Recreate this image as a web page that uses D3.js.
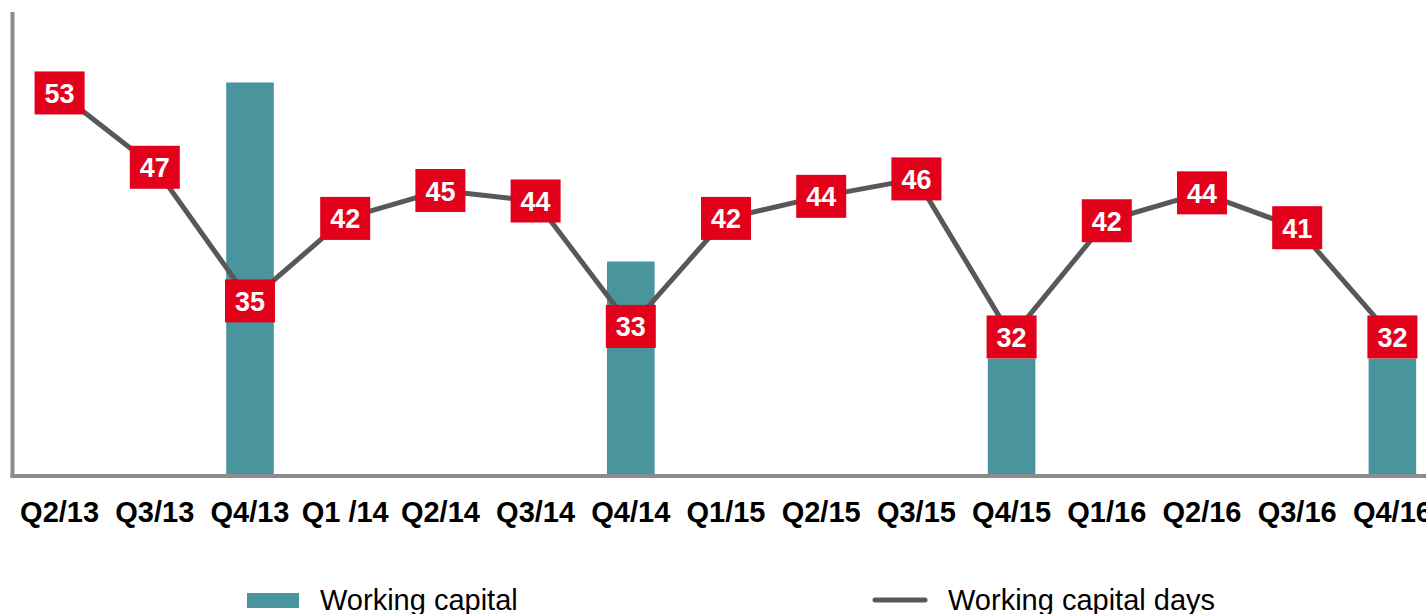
<!DOCTYPE html>
<html>
<head>
<meta charset="utf-8">
<script src="https://cdn.jsdelivr.net/npm/d3@7"></script>
<style>
  body { margin: 0; background: #fff; }
  svg { display: block; font-family: Arial, "Liberation Sans", sans-serif; }
  .tick-label { font-size: 29px; font-weight: bold; fill: #000; }
  .value-label { font-size: 27px; font-weight: bold; fill: #fff; }
  .legend-text { font-size: 29px; fill: #000; }
</style>
</head>
<body>
<div id="wrapper"></div>
<script>
const quarters = [
  'Q2/13', 'Q3/13', 'Q4/13', 'Q1 /14', 'Q2/14', 'Q3/14', 'Q4/14',
  'Q1/15', 'Q2/15', 'Q3/15', 'Q4/15', 'Q1/16', 'Q2/16', 'Q3/16', 'Q4/16'
]
// working capital only reported for Q4 quarters
const workingCapital = [null, null, 339, null, null, null, 184, null, null, null, 100, null, null, null, 100]
const workingCapitalDays = [53, 46.6, 35.1, 42.2, 44.6, 43.7, 32.9, 42.2, 44.1, 45.6, 32, 42.0, 44.4, 41.4, 32]
const seriesNames = ['Working capital', 'Working capital days']

function drawChart() {

  // 1. Access data

  const dataset = quarters.map((q, i) => ({
    quarter: q,
    capital: workingCapital[i],
    days: workingCapitalDays[i]
  }))
  const quarterAccessor = d => d.quarter
  const capitalAccessor = d => d.capital
  const daysAccessor = d => d.days

  // 2. Create chart dimensions

  let dimensions = {
    width: 1426,
    height: 614,
    plotLeft: 12,
    plotRight: 1440,
    plotTop: 12,
    plotBottom: 474,
    boxWidth: 50,
    boxHeight: 43,
  }

  // 3. Draw canvas

  const wrapper = d3.select("#wrapper")
    .append("svg")
      .attr("width", dimensions.width)
      .attr("height", dimensions.height)

  const bounds = wrapper.append("g")

  // 4. Create scales

  const xScale = d3.scaleBand()
    .domain(quarters)
    .range([dimensions.plotLeft, dimensions.plotRight])
    .paddingInner(0.5)
    .paddingOuter(0.25)

  const xCenter = d => xScale(quarterAccessor(d)) + xScale.bandwidth() / 2

  const capitalScale = d3.scaleLinear()
    .domain([0, 400])
    .range([dimensions.plotBottom, dimensions.plotTop])

  const daysScale = d3.scaleLinear()
    .domain([20.2, 61])
    .range([dimensions.plotBottom, 0])

  // 5. Draw data

  bounds.append("g")
    .selectAll("rect")
    .data(dataset.filter(d => capitalAccessor(d) != null))
    .join("rect")
      .attr("x", d => xScale(quarterAccessor(d)))
      .attr("width", xScale.bandwidth())
      .attr("y", d => capitalScale(capitalAccessor(d)))
      .attr("height", d => dimensions.plotBottom - capitalScale(capitalAccessor(d)))
      .attr("fill", "#4a959d")

  // axis frame
  bounds.append("line")
    .attr("x1", 12.5).attr("x2", 12.5)
    .attr("y1", dimensions.plotTop).attr("y2", 478)
    .attr("stroke", "#8c8c8c")
    .attr("stroke-width", 4)
  bounds.append("line")
    .attr("x1", 10.5).attr("x2", dimensions.width)
    .attr("y1", 476).attr("y2", 476)
    .attr("stroke", "#8c8c8c")
    .attr("stroke-width", 4)

  const lineGenerator = d3.line()
    .x(xCenter)
    .y(d => daysScale(daysAccessor(d)))

  bounds.append("path")
    .datum(dataset)
    .attr("d", lineGenerator)
    .attr("fill", "none")
    .attr("stroke", "#58585a")
    .attr("stroke-width", 5)
    .attr("stroke-linejoin", "round")

  const boxes = bounds.append("g")
    .selectAll("g")
    .data(dataset)
    .join("g")
      .attr("transform", d => `translate(${xCenter(d)}, ${daysScale(daysAccessor(d))})`)

  boxes.append("rect")
    .attr("x", -dimensions.boxWidth / 2)
    .attr("y", -dimensions.boxHeight / 2)
    .attr("width", dimensions.boxWidth)
    .attr("height", dimensions.boxHeight)
    .attr("fill", "#e2001a")

  boxes.append("text")
    .attr("class", "value-label")
    .attr("text-anchor", "middle")
    .attr("y", 10)
    .text(d => d3.format(".0f")(daysAccessor(d)))

  // 6. Draw peripherals

  bounds.append("g")
    .selectAll("text")
    .data(dataset)
    .join("text")
      .attr("class", "tick-label")
      .attr("text-anchor", "middle")
      .attr("x", xCenter)
      .attr("y", 522)
      .text(quarterAccessor)

  const legend = bounds.append("g")

  legend.append("rect")
    .attr("x", 247)
    .attr("y", 593)
    .attr("width", 52)
    .attr("height", 15)
    .attr("fill", "#4a959d")
  legend.append("text")
    .attr("class", "legend-text")
    .attr("x", 320)
    .attr("y", 610)
    .text(seriesNames[0])

  legend.append("line")
    .attr("x1", 875).attr("x2", 925)
    .attr("y1", 600).attr("y2", 600)
    .attr("stroke", "#58585a")
    .attr("stroke-width", 5)
    .attr("stroke-linecap", "round")
  legend.append("text")
    .attr("class", "legend-text")
    .attr("x", 948)
    .attr("y", 610)
    .text(seriesNames[1])
}
drawChart()
</script>
</body>
</html>
